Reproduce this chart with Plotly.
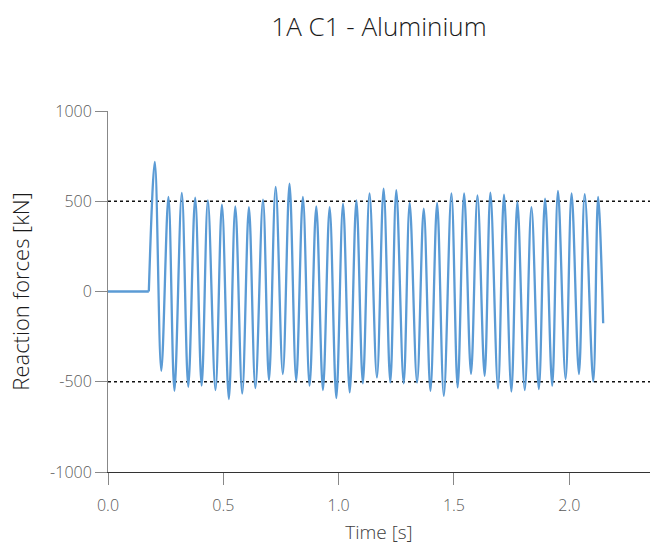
import plotly.graph_objects as go

# Quiet phase before the load is applied
t_rest = [0.0, 0.177]
f_rest = [0.0, 0.0]

# Oscillation: successive peaks and troughs of the reaction force
t_osc = [0.177, 0.203, 0.231, 0.262, 0.288, 0.320, 0.348, 0.378, 0.406, 0.433,
         0.466, 0.494, 0.524, 0.552, 0.582, 0.611, 0.639, 0.672, 0.698, 0.727,
         0.758, 0.787, 0.816, 0.845, 0.874, 0.903, 0.932, 0.961, 0.990, 1.019,
         1.048, 1.077, 1.105, 1.134, 1.166, 1.195, 1.224, 1.250, 1.282, 1.308,
         1.340, 1.369, 1.398, 1.427, 1.456, 1.489, 1.516, 1.544, 1.574, 1.602,
         1.633, 1.658, 1.691, 1.717, 1.749, 1.775, 1.807, 1.836, 1.868, 1.895,
         1.926, 1.951, 1.984, 2.010, 2.042, 2.067, 2.104, 2.125, 2.147]
f_osc = [0, 718, -439, 524, -550, 546, -528, 520, -522, 505,
         -546, 481, -596, 472, -565, 468, -535, 509, -491, 579,
         -457, 598, -494, 524, -522, 472, -546, 468, -591, 487,
         -559, 505, -509, 543, -476, 570, -504, 561, -509, 491,
         -504, 459, -550, 491, -578, 543, -531, 543, -457, 533,
         -467, 548, -537, 537, -554, 496, -546, 468, -541, 515,
         -522, 557, -485, 543, -457, 539, -498, 524, -176]

ref_levels = [500, -500]
y_ticks = [-1000, -500, 0, 500, 1000]
y_labels = ["-1000", "-500", "0", "500", "1000"]
x_ticks = [0.0, 0.5, 1.0, 1.5, 2.0]
x_labels = ["0.0", "0.5", "1.0", "1.5", "2.0"]

line_color = "#5B9BD5"
font_family = "Open Sans, Segoe UI, sans-serif"

fig = go.Figure()
fig.add_trace(go.Scatter(x=t_rest, y=f_rest, mode="lines",
                         line=dict(color=line_color, width=2.3), showlegend=False))
fig.add_trace(go.Scatter(x=t_osc, y=f_osc, mode="lines",
                         line=dict(color=line_color, width=2.3, shape="spline", smoothing=1),
                         showlegend=False))

for lvl in ref_levels:
    fig.add_shape(type="line", xref="paper", x0=0, x1=1, yref="y", y0=lvl, y1=lvl,
                  line=dict(color="#111111", width=1.6, dash="dot"), layer="below")

fig.update_layout(
    width=650, height=552,
    margin=dict(l=108, r=0, t=111, b=80),
    paper_bgcolor="white", plot_bgcolor="white",
    font=dict(family=font_family, color="#595959", size=16, weight=300),
    title=dict(text="1A C1 - Aluminium", x=0.5, xref="paper", xanchor="center",
               y=0.951, yref="container", yanchor="middle",
               font=dict(size=26, color="#1a1a1a", family=font_family, weight=300)),
    xaxis=dict(range=[0, 2.35], tickvals=x_ticks, ticktext=x_labels,
               showgrid=False, zeroline=False, showline=True, linecolor="#333333",
               linewidth=1, ticks="outside", ticklen=12, tickcolor="#888888",
               ticklabelstandoff=7,
               tickfont=dict(size=16, color="#595959", weight=300),
               title=dict(text="Time [s]", font=dict(size=19, color="#404040", weight=300),
                          standoff=10)),
    yaxis=dict(range=[-1000, 1000], tickvals=y_ticks, ticktext=y_labels,
               showgrid=False, zeroline=False, showline=True, linecolor="#888888",
               linewidth=1, ticks="outside", ticklen=12, tickcolor="#888888",
               tickfont=dict(size=16, color="#595959", weight=300),
               title=dict(text="Reaction forces [kN]",
                          font=dict(size=22, color="#1a1a1a", weight=300),
                          standoff=14)),
)

fig.write_html("out.html")
